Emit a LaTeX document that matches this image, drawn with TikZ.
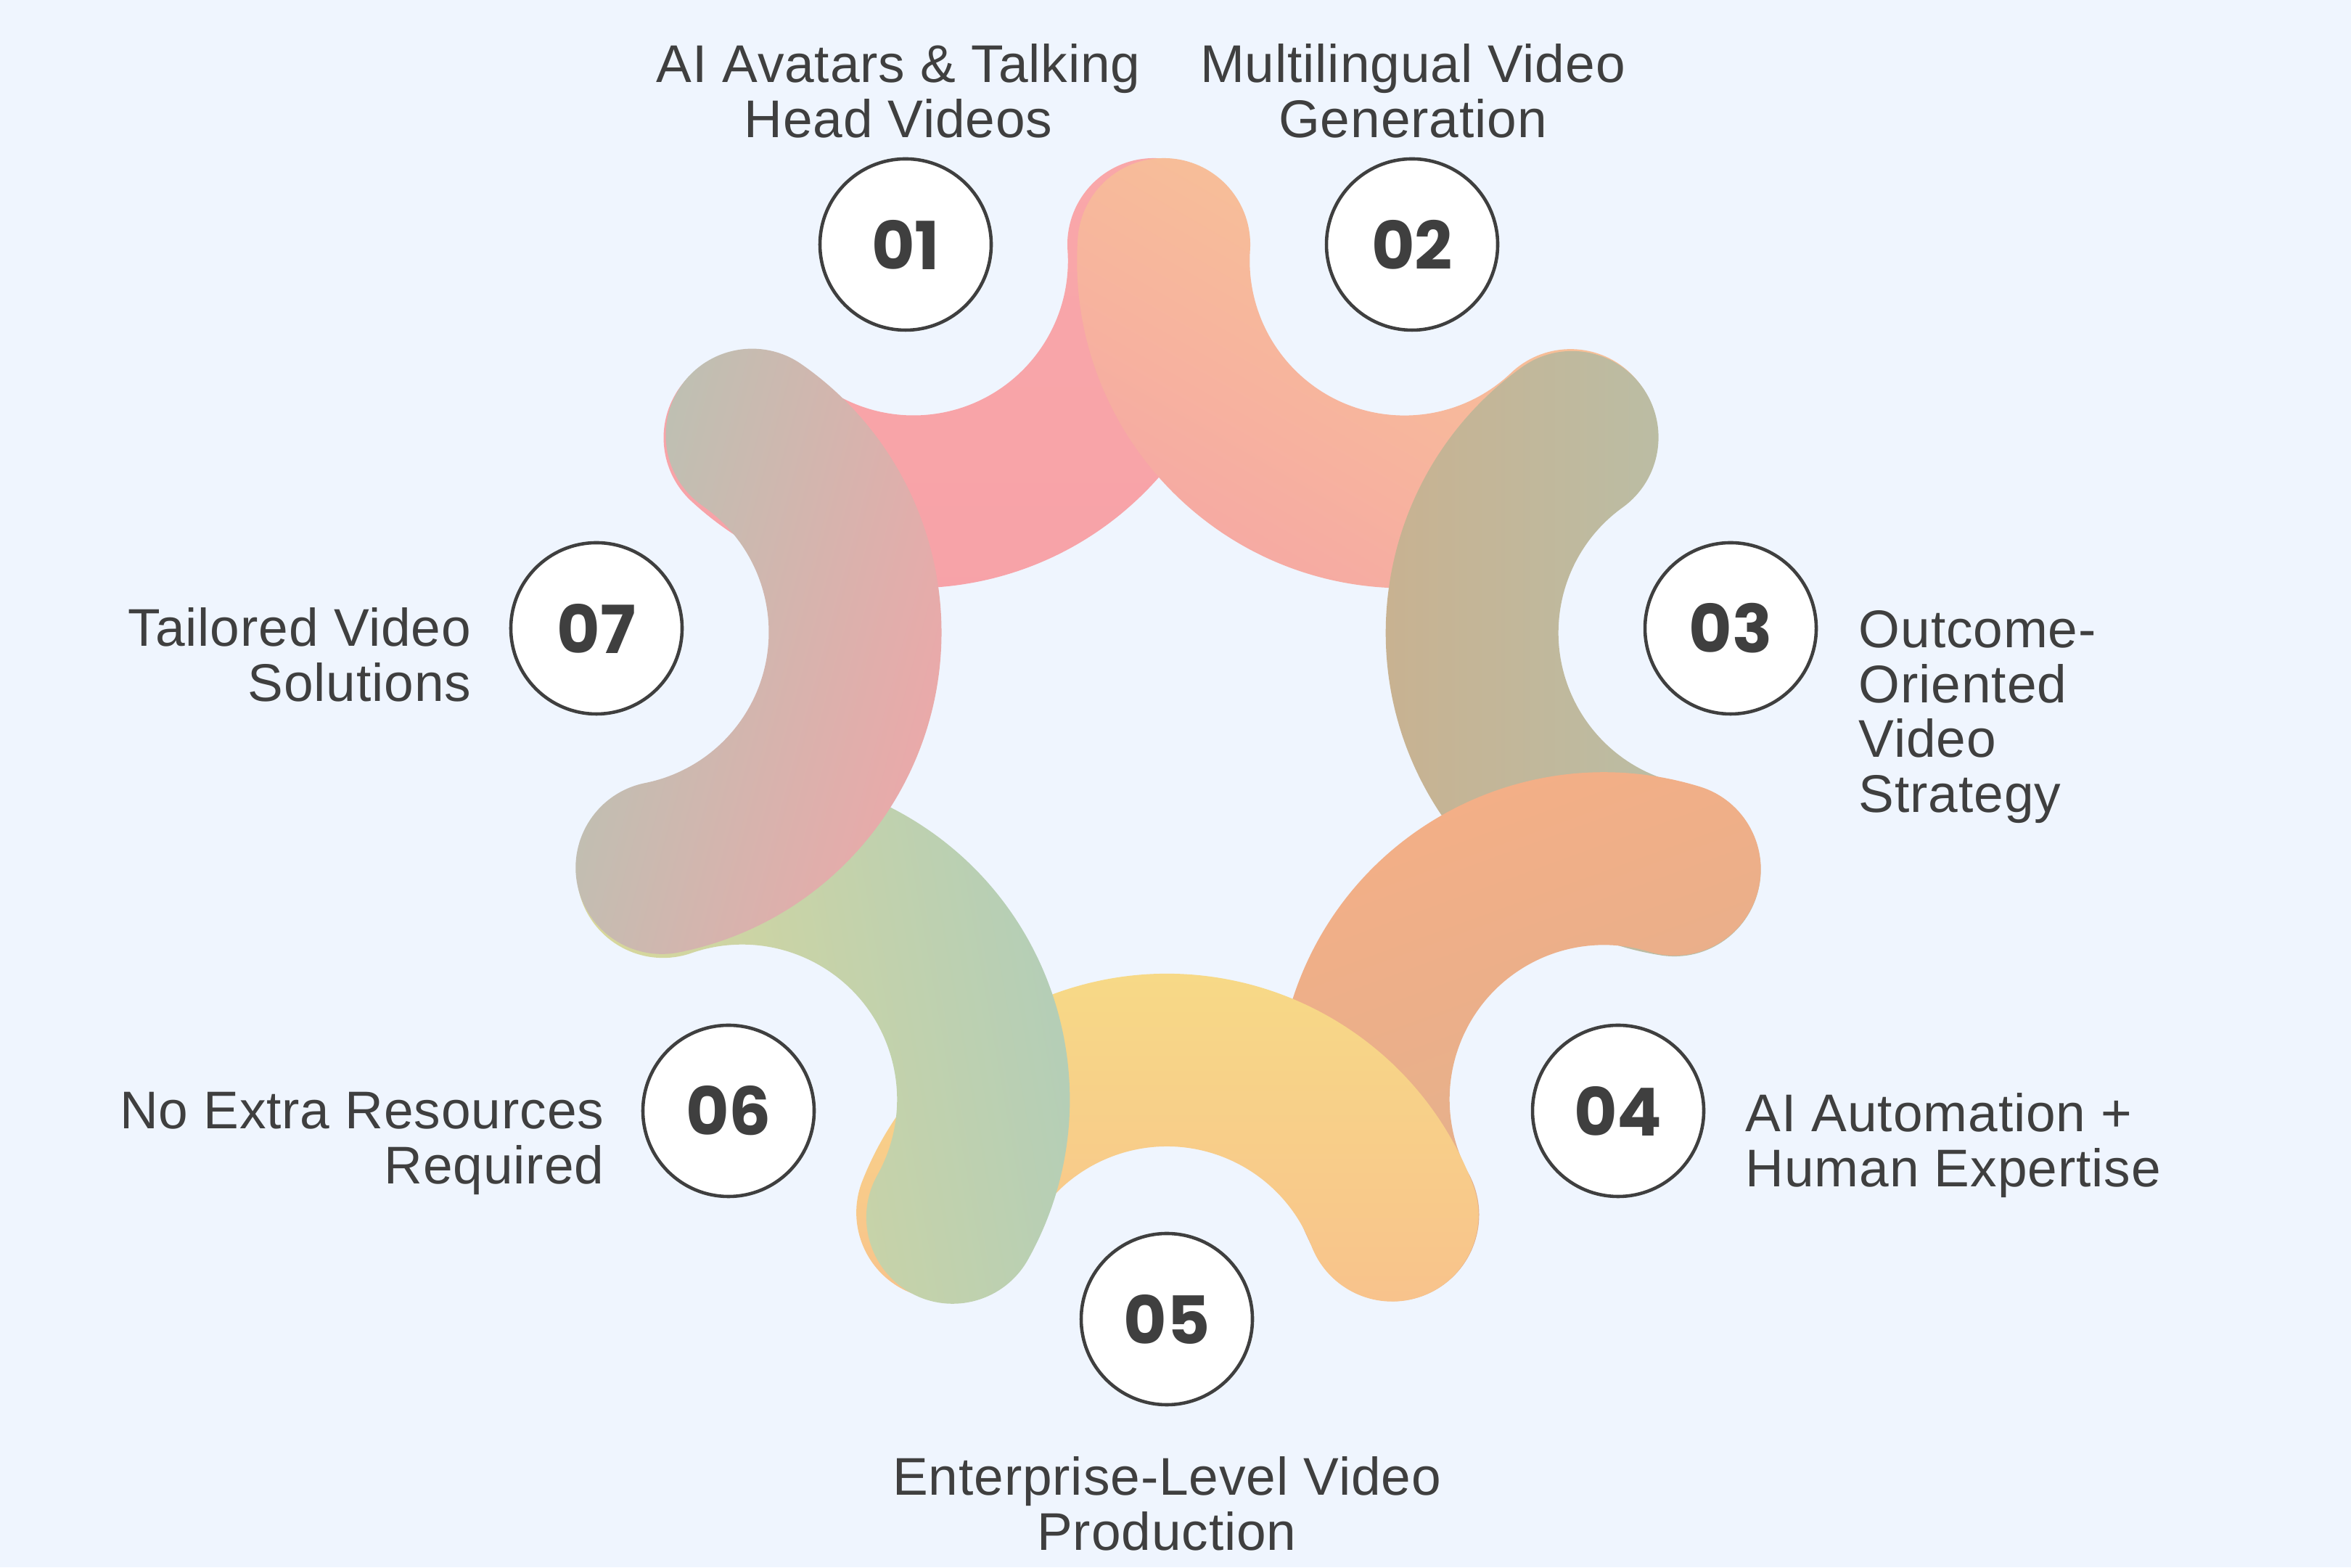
\documentclass[tikz,border=0pt]{standalone}
\usepackage{fontspec}
\setmainfont{Liberation Sans}[LetterSpace=1.2]
\newfontfamily\numfont{Poppins}
\usetikzlibrary{calc}
\definecolor{bg}{RGB}{239,245,254}
\definecolor{txt}{HTML}{3F3F3F}
\definecolor{a1A}{HTML}{F9A7A9}\definecolor{a1B}{HTML}{F7A2A8}
\definecolor{a2A}{HTML}{F8C794}\definecolor{a2B}{HTML}{F6A8A4}
\definecolor{a3A}{HTML}{B6C1AB}\definecolor{a3B}{HTML}{CAB08E}
\definecolor{a4A}{HTML}{F5AF86}\definecolor{a4B}{HTML}{DFB08E}
\definecolor{a5A}{HTML}{F7DC86}\definecolor{a5B}{HTML}{F8C28C}
\definecolor{a6A}{HTML}{B0CDBA}\definecolor{a6B}{HTML}{DCD898}
\definecolor{a7A}{HTML}{B6C4B4}\definecolor{a7B}{HTML}{F0A6A8}
\newcommand\Mdist{3.57}% band centre line distance at its middle
\newcommand\Edist{3.42}% distance of the end caps from the number centre
\newcommand\Wb{1.19}% half width of a band
% #1 number centre, #2 direction to previous, #3 direction to next,
% #4 colour A, #5 colour B, #6 shading angle
\newcommand\drawband[6]{%
  \pgfmathsetmacro\bb{(#2+#3)/2}%
  \pgfmathsetmacro\hh{(#3-#2)/2}%
  \pgfmathsetmacro\dd{(\Mdist*\Mdist-\Edist*\Edist)/(2*(\Mdist-\Edist*cos(\hh)))}%
  \pgfmathsetmacro\ps{atan2(\Edist*sin(\hh),\Edist*cos(\hh)-\dd)}%
  \pgfmathsetmacro\rr{\Mdist-\dd}%
  \pgfmathsetmacro\ro{\rr+\Wb}%
  \pgfmathsetmacro\ri{\rr-\Wb}%
  \pgfmathsetmacro\sa{\bb-\ps}%
  \pgfmathsetmacro\ea{\bb+\ps}%
  \coordinate (o) at ($(#1)+(\bb:\dd)$);
  \shade[top color=#4, bottom color=#5, shading angle=#6]
    ($(o)+(\sa:\ro)$) arc[start angle=\sa, end angle=\ea, radius=\ro cm]
    arc[start angle=\ea, end angle=\ea+180, radius=\Wb cm]
    arc[start angle=\ea, end angle=\sa, radius=\ri cm]
    arc[start angle=\sa+180, end angle=\sa+360, radius=\Wb cm] -- cycle;}
\tikzset{
  numc/.style={circle, draw=txt, line width=1.3pt, fill=white, minimum size=2.36cm,
    inner sep=0pt, text=txt, font=\numfont\bfseries\fontsize{26pt}{26pt}\selectfont},
  lab/.style={inner sep=0pt, text=txt, font=\fontsize{20.8pt}{21.5pt}\selectfont}
}
\begin{document}
\begin{tikzpicture}
\fill[bg] (0,0) rectangle (32.4,21.6);
\useasboundingbox (0,0) rectangle (32.4,21.6);
\coordinate (p1) at (12.48,18.23);
\coordinate (p2) at (19.46,18.23);
\coordinate (p3) at (23.85,12.94);
\coordinate (p4) at (22.30,6.29);
\coordinate (p5) at (16.08,3.42);
\coordinate (p6) at (10.04,6.29);
\coordinate (p7) at (8.22,12.94);
% bands, drawn in order so each covers the end of the previous one
\drawband{p1}{231.16}{360}{a1A}{a1B}{0}
\drawband{p2}{180}{309.69}{a2A}{a2B}{-30}
\drawband{p3}{129.69}{256.88}{a3A}{a3B}{-90}
\drawband{p4}{76.88}{204.77}{a4A}{a4B}{20}
\drawband{p5}{24.77}{154.58}{a5A}{a5B}{0}
\drawband{p6}{-25.42}{105.31}{a6A}{a6B}{-80}
\drawband{p7}{-74.69}{51.16}{a7A}{a7B}{75}
% number circles
\node[numc] (c1) at (p1) {01};
\node[numc] (c2) at (p2) {02};
\node[numc] (c3) at (p3) {03};
\node[numc] (c4) at (p4) {04};
\node[numc] (c5) at (p5) {05};
\node[numc] (c6) at (p6) {06};
\node[numc] (c7) at (p7) {07};
% labels
\node[lab, anchor=north, align=center] (l1) at (12.38,21.00) {AI Avatars \& Talking\\Head Videos};
\node[lab, anchor=north, align=center] (l2) at (19.47,21.00) {Multilingual Video\\Generation};
\node[lab, anchor=north west, align=left] (l3) at (25.61,13.19) {Outcome-\\Oriented\\Video\\Strategy};
\node[lab, anchor=north west, align=left] (l4) at (24.05,6.54) {AI Automation +\\Human Expertise};
\node[lab, anchor=north, align=center] (l5) at (16.08,1.53) {Enterprise-Level Video\\Production};
\node[lab, anchor=north east, align=right] (l6) at (8.33,6.55) {No Extra Resources\\Required};
\node[lab, anchor=north east, align=right] (l7) at (6.50,13.23) {Tailored Video\\Solutions};
\end{tikzpicture}
\end{document}
